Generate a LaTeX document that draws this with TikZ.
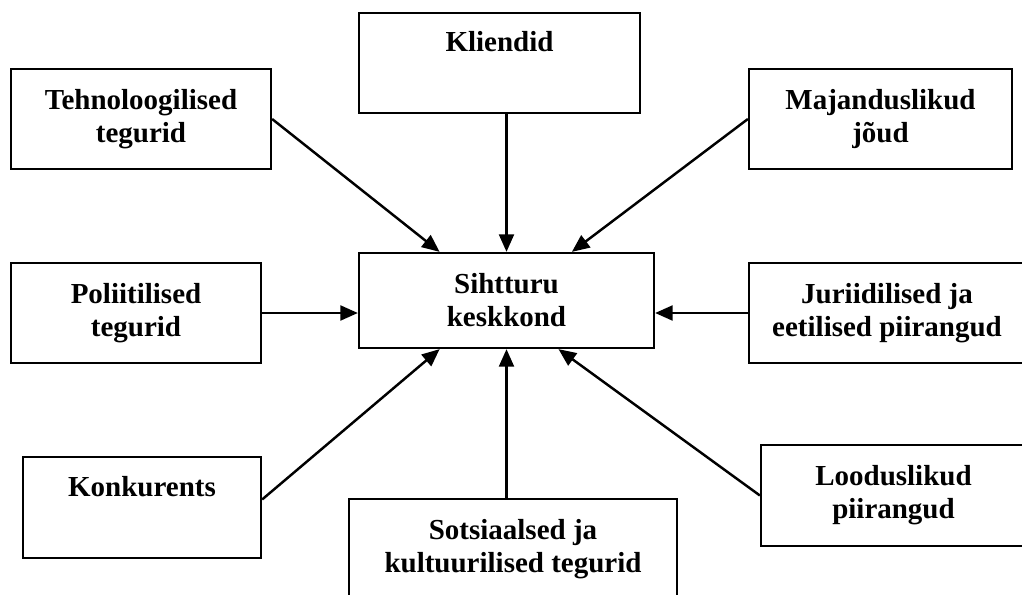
\documentclass[tikz,border=0pt]{standalone}
\usepackage{fontspec}
\setmainfont{Liberation Serif}
\usetikzlibrary{calc,arrows.meta}
\tikzset{
  box/.style={draw=black, line width=1.3pt, align=center, inner sep=2pt,
    font=\fontsize{16.5}{18.7}\selectfont\bfseries},
  pil/.style={draw=black, line width=1.4pt, -{Triangle[length=10pt,width=8.5pt]}},
}

\begin{document}
\begin{tikzpicture}[x=0.02cm,y=-0.02cm]
  \useasboundingbox (0,0) rectangle (1022,595);
  \clip (0,0) rectangle (1022,595);

  \node[box, minimum width=5.9cm, minimum height=1.9cm] (env) at (506.5,300.5) {Sihtturu\\keskkond};
  \node[box, minimum width=5.62cm, minimum height=2cm] (cli) at (499.5,63) {Kliendid\\\strut};
  \node[box, minimum width=5.2cm, minimum height=2cm] (tech) at (141,119) {Tehnoloogilised\\tegurid};
  \node[box, minimum width=5.26cm, minimum height=2cm] (maj) at (880.5,119) {Majanduslikud\\jõud};
  \node[box, minimum width=5cm, minimum height=2cm] (pol) at (136,313) {Poliitilised\\tegurid};
  \node[box, minimum width=5.52cm, minimum height=2cm] (jur) at (887,313) {Juriidilised ja\\eetilised piirangud};
  \node[box, minimum width=4.76cm, minimum height=2.02cm] (konk) at (142,507.5) {Konkurents\\\strut};
  \node[box, minimum width=6.56cm, minimum height=2cm] (soc) at (513,549) {Sotsiaalsed ja\\kultuurilised tegurid};
  \node[box, minimum width=5.3cm, minimum height=2.02cm] (lood) at (893.5,495.5) {Looduslikud\\piirangud};

  \draw[pil] (cli.south -| env.north) -- (env.north);
  \draw[pil] (tech.east) -- ($(env.north west)!.275!(env.north east)$);
  \draw[pil] (maj.west) -- ($(env.north west)!.72!(env.north east)$);
  \draw[pil] (pol.east) -- (pol.east -| env.west);
  \draw[pil] (jur.west) -- (jur.west -| env.east);
  \draw[pil] ($(konk.east)+(0,-8)$) -- ($(env.south west)!.275!(env.south east)$);
  \draw[pil] (soc.north -| env.south) -- (env.south);
  \draw[pil] (lood.west) -- ($(env.south west)!.675!(env.south east)$);
\end{tikzpicture}
\end{document}
